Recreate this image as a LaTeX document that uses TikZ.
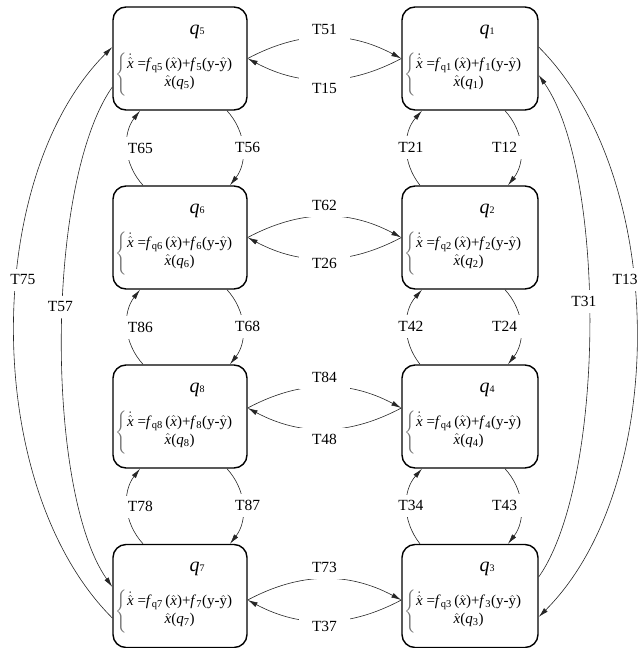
\documentclass[tikz,border=0pt]{standalone}
\usepackage{fontspec}
\usepackage{amsmath}
\setmainfont{Liberation Serif}
\usetikzlibrary{arrows.meta,calc}

\newcommand\xh{\hat{\text{\itshape x}}}
\newcommand\stateformula[1]{%
 \(\color{black!55}\left\{\color{black}\begin{tabular}{@{}c@{}}
 \(\dot{\xh}\) =\textit{f}\textsubscript{q#1}\,(\(\xh\))+\textit{f}\textsubscript{#1}(y-\(\hat{\text{y}}\))\\
 \(\xh\)(\textit{q}\textsubscript{#1})\\[3pt]
 \end{tabular}\right.\)}
\newcommand\mkstate[4]{%
 \node[qbox, minimum width=#4pt] (q#1) at (#2,#3) {};
 \node[qtitle] (q#1t) at ($(q#1.center)+(17,-27)$) {\textit{q}{\fontsize{10}{10}\selectfont #1}};
 \node[qform, anchor=west] (q#1f) at ($(q#1.west)+(3,16)$) {\stateformula{#1}};
}

\tikzset{
 qbox/.style={draw, line width=1.4pt, rounded corners=13pt, minimum height=103pt, inner sep=0pt},
 qtitle/.style={inner sep=0pt, font=\fontsize{20}{22}\selectfont},
 qform/.style={inner sep=0pt, font=\fontsize{15}{18}\selectfont},
 edge/.style={draw=black!85, line width=0.6pt, -{Latex[length=10pt,width=5pt]}},
 lbl/.style={fill=white, inner xsep=13pt, inner ysep=6pt, font=\fontsize{15.5}{18}\selectfont, text=black}
}

\begin{document}
\begin{tikzpicture}[x=1pt,y=-1pt]
\useasboundingbox (0,0) rectangle (638,648);

\mkstate{5}{180}{58.5}{134}
\mkstate{6}{180}{237.5}{134}
\mkstate{8}{180}{416.5}{134}
\mkstate{7}{180}{596}{134}
\mkstate{1}{470}{58.5}{136}
\mkstate{2}{470}{237.5}{136}
\mkstate{4}{470}{416.5}{136}
\mkstate{3}{470}{596}{136}

% horizontal lenses
\draw[edge] (q5.east) to[bend left=28] node[lbl,yshift=8pt]{T51} (q1.west);
\draw[edge] (q1.west) to[bend left=28] node[lbl,yshift=-9pt]{T15} (q5.east);
\draw[edge] (q6.east) to[bend left=28] node[lbl,yshift=11pt]{T62} (q2.west);
\draw[edge] (q2.west) to[bend left=28] node[lbl,yshift=-5pt]{T26} (q6.east);
\draw[edge] ([yshift=8.5pt]q8.east) to[bend left=28] node[lbl,yshift=9pt]{T84} ([yshift=8.5pt]q4.west);
\draw[edge] ([yshift=8.5pt]q4.west) to[bend left=28] node[lbl,yshift=-10pt]{T48} ([yshift=8.5pt]q8.east);
\draw[edge] ([yshift=-4pt]q7.east) to[bend left=28] node[lbl,yshift=11pt]{T73} ([yshift=-4pt]q3.west);
\draw[edge] ([yshift=-4pt]q3.west) to[bend left=28] node[lbl,yshift=-5pt]{T37} ([yshift=-4pt]q7.east);

% vertical pairs, left column
\draw[edge] ([xshift=-37pt]q6.north) to[bend left=40] node[lbl,xshift=13pt]{T65} ([xshift=-40pt]q5.south);
\draw[edge] ([xshift=47pt]q5.south) to[bend left=40] node[lbl,xshift=5pt]{T56} ([xshift=50pt]q6.north);
\draw[edge] ([xshift=-37pt]q8.north) to[bend left=40] node[lbl,xshift=13pt]{T86} ([xshift=-40pt]q6.south);
\draw[edge] ([xshift=47pt]q6.south) to[bend left=40] node[lbl,xshift=5pt]{T68} ([xshift=50pt]q8.north);
\draw[edge] ([xshift=-37pt]q7.north) to[bend left=40] node[lbl,xshift=13pt]{T78} ([xshift=-40pt]q8.south);
\draw[edge] ([xshift=47pt]q8.south) to[bend left=40] node[lbl,xshift=5pt]{T87} ([xshift=50pt]q7.north);

% vertical pairs, right column
\draw[edge] ([xshift=-50pt]q2.north) to[bend left=40] node[lbl,xshift=4pt]{T21} ([xshift=-48pt]q1.south);
\draw[edge] ([xshift=35pt]q1.south) to[bend left=40] node[lbl,xshift=-16pt]{T12} ([xshift=38pt]q2.north);
\draw[edge] ([xshift=-50pt]q4.north) to[bend left=40] node[lbl,xshift=4pt]{T42} ([xshift=-48pt]q2.south);
\draw[edge] ([xshift=35pt]q2.south) to[bend left=40] node[lbl,xshift=-16pt]{T24} ([xshift=38pt]q4.north);
\draw[edge] ([xshift=-50pt]q3.north) to[bend left=40] node[lbl,xshift=4pt]{T34} ([xshift=-48pt]q4.south);
\draw[edge] ([xshift=35pt]q4.south) to[bend left=40] node[lbl,xshift=-16pt]{T43} ([xshift=38pt]q3.north);

% long arcs
\draw[edge] ([yshift=-22pt]q7.west) to[bend left=45, looseness=0.83] node[lbl,pos=0.58,xshift=6pt]{T75} ([yshift=11.5pt]q5.west);
\draw[edge] ([yshift=-28.5pt]q5.west) to[bend right=35, looseness=0.6] node[lbl,pos=0.45,xshift=-2pt]{T57} ([yshift=9pt]q7.west);
\draw[edge] ([yshift=11.5pt]q1.east) to[bend left=45, looseness=0.83] node[lbl,pos=0.42,xshift=-9pt]{T13} ([yshift=-21pt]q3.east);
\draw[edge] ([yshift=19pt]q3.east) to[bend right=35, looseness=0.6] node[lbl,pos=0.54,xshift=-5pt]{T31} ([yshift=-16.5pt]q1.east);
\end{tikzpicture}
\end{document}
